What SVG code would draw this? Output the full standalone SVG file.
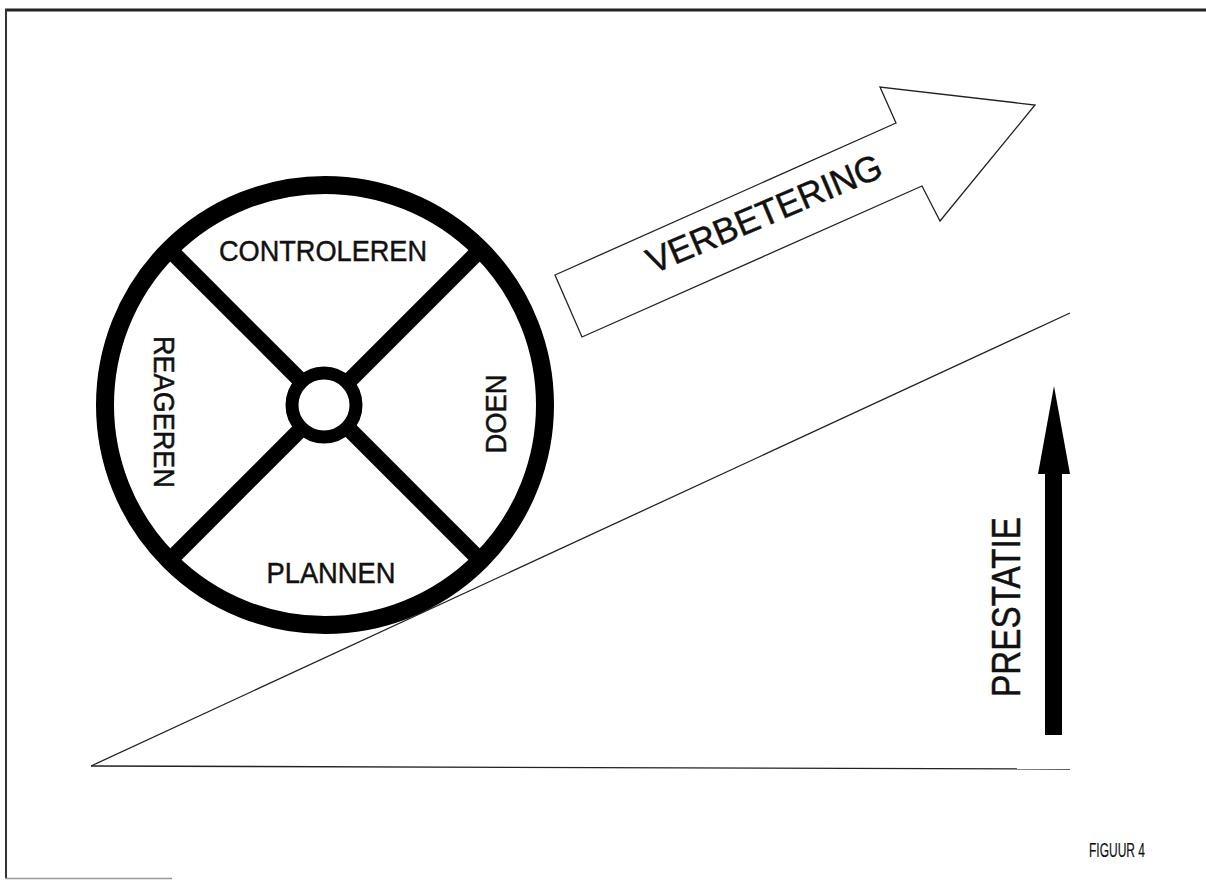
<svg xmlns="http://www.w3.org/2000/svg" width="1206" height="880" viewBox="0 0 1206 880">
<style>
.lbl{font-family:"Liberation Sans",Arial,Helvetica,sans-serif;fill:#111;stroke:#111;stroke-width:0.45;}
.thin{fill:none;stroke:#222;stroke-width:1.3;}
.wheel{fill:none;stroke:#000;}
</style>
<rect width="1206" height="880" fill="#fff"/>
<g id="frame">
<line x1="5" y1="10" x2="1206" y2="10" stroke="#222" stroke-width="3"/>
<line x1="6" y1="9" x2="6" y2="879" stroke="#333" stroke-width="2"/>
<line x1="5" y1="878.5" x2="172" y2="878.5" stroke="#999" stroke-width="1.5"/>
</g>
<g id="connectors">
<line class="thin" x1="91" y1="766" x2="1070" y2="313"/>
<line class="thin" x1="91" y1="766" x2="1070" y2="769"/>
</g>
<g id="wheel">
<circle class="wheel" cx="325" cy="405" r="220" stroke-width="18"/>
<g stroke="#000" stroke-width="16" stroke-linecap="butt">
<line x1="170" y1="250" x2="302" y2="382"/>
<line x1="480" y1="250" x2="348" y2="382"/>
<line x1="170" y1="560" x2="302" y2="428"/>
<line x1="480" y1="560" x2="348" y2="428"/>
</g>
<circle class="wheel" cx="324" cy="405" r="32" stroke-width="13"/>
</g>
<g id="controleren"><text class="lbl" x="323" y="261" font-size="29" text-anchor="middle" textLength="208" lengthAdjust="spacingAndGlyphs">CONTROLEREN</text></g>
<g id="plannen"><text class="lbl" x="331" y="583" font-size="29" text-anchor="middle" textLength="129" lengthAdjust="spacingAndGlyphs">PLANNEN</text></g>
<g id="reageren"><text class="lbl" transform="translate(154,412) rotate(90)" font-size="29" text-anchor="middle" textLength="152" lengthAdjust="spacingAndGlyphs">REAGEREN</text></g>
<g id="doen"><text class="lbl" transform="translate(506,414) rotate(-90)" font-size="29" text-anchor="middle" textLength="79" lengthAdjust="spacingAndGlyphs">DOEN</text></g>
<g id="verbetering">
<polygon points="555,275 896,123 880,87 1035,105 940,221 922,186 582,337" fill="#fff" stroke="#222" stroke-width="1.3" stroke-linejoin="miter"/>
<text class="lbl" transform="translate(769,225) rotate(-23)" font-size="36" text-anchor="middle" textLength="252" lengthAdjust="spacingAndGlyphs">VERBETERING</text>
</g>
<g id="prestatie">
<polygon points="1045,735 1062,735 1062,474 1070,474 1054,386 1038,474 1045,474" fill="#000"/>
<text class="lbl" transform="translate(1020,607) rotate(-90)" font-size="40" text-anchor="middle" textLength="180" lengthAdjust="spacingAndGlyphs">PRESTATIE</text>
</g>
<g id="figuur"><text class="lbl" x="1089" y="857" font-size="21" textLength="56" lengthAdjust="spacingAndGlyphs" style="stroke-width:0.2">FIGUUR 4</text></g>
</svg>
